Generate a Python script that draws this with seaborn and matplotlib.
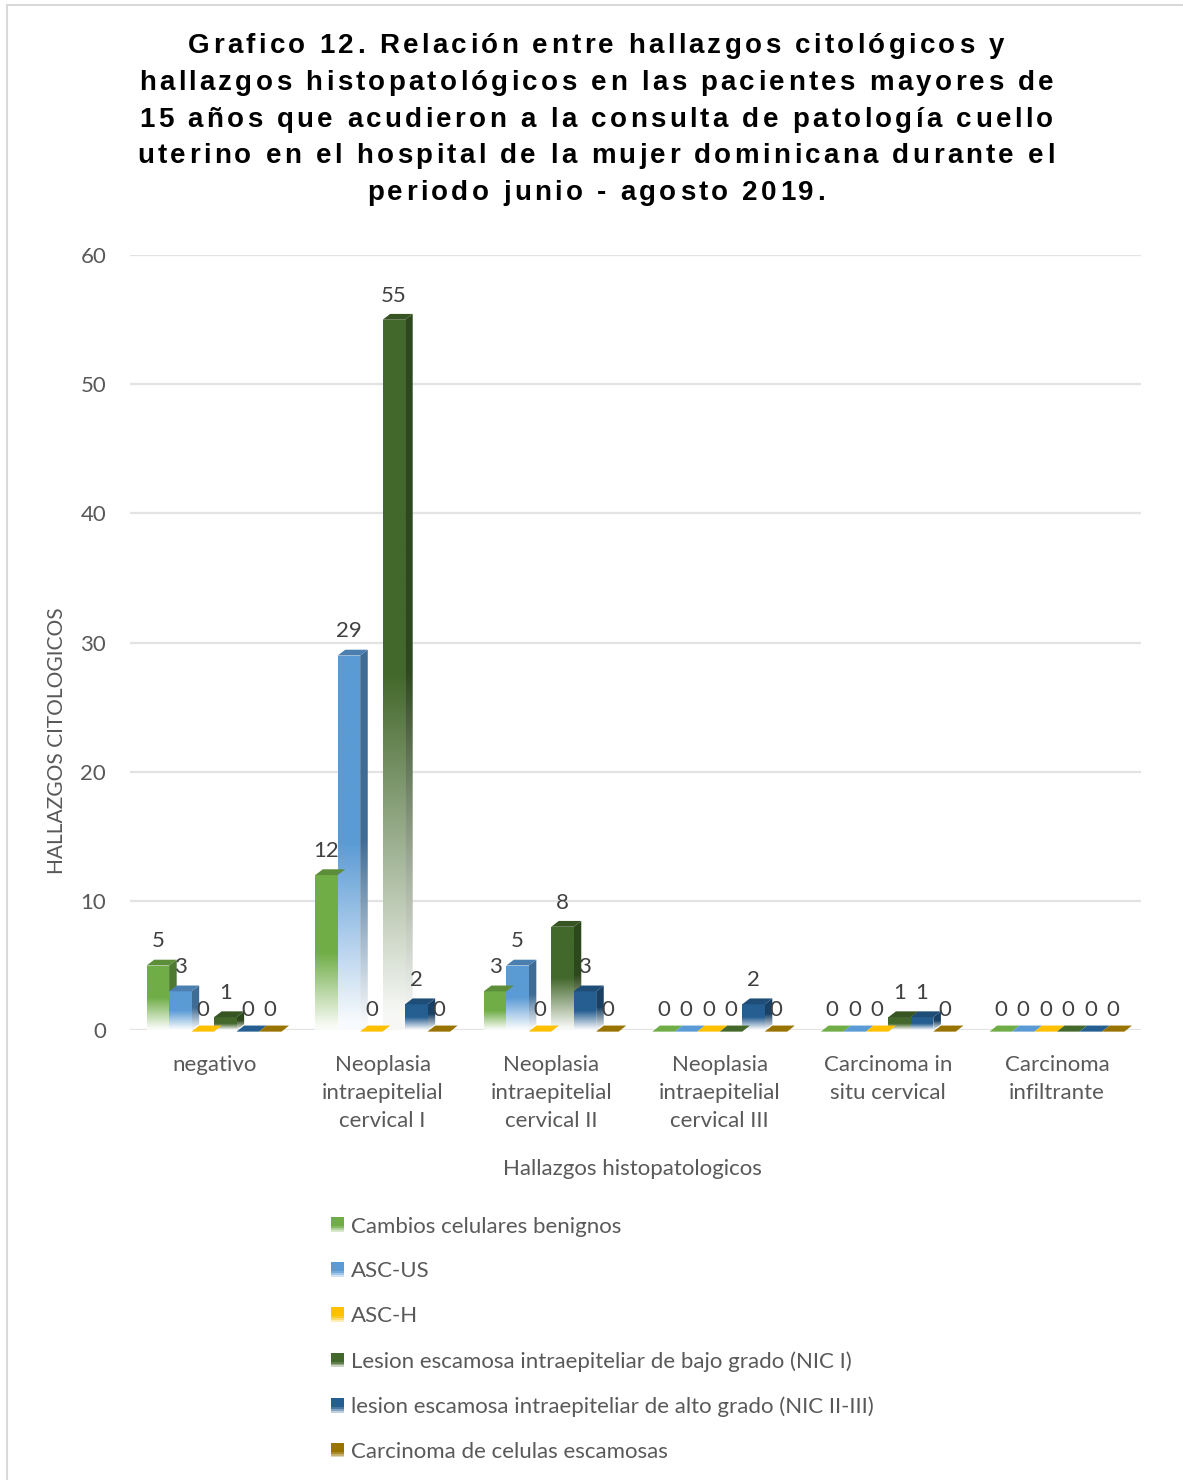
import numpy as np
import pandas as pd
import matplotlib
matplotlib.use("Agg")
import matplotlib.pyplot as plt
import seaborn as sns
from matplotlib.patches import Polygon, Rectangle
from matplotlib.lines import Line2D
from matplotlib.colors import to_rgb
from matplotlib.font_manager import FontProperties
from matplotlib.legend_handler import HandlerBase

# ---------------- data ----------------
categories = ["negativo",
              "Neoplasia\nintraepitelial\ncervical I",
              "Neoplasia\nintraepitelial\ncervical II",
              "Neoplasia\nintraepitelial\ncervical III",
              "Carcinoma in\nsitu cervical",
              "Carcinoma\ninfiltrante"]
series_names = ["Cambios celulares benignos",
                "ASC-US",
                "ASC-H",
                "Lesion escamosa intraepiteliar de bajo grado (NIC I)",
                "lesion escamosa intraepiteliar de alto grado (NIC II-III)",
                "Carcinoma de celulas escamosas"]
cambios_benignos = [5, 12, 3, 0, 0, 0]
asc_us = [3, 29, 5, 0, 0, 0]
asc_h = [0, 0, 0, 0, 0, 0]
nic_1 = [1, 55, 8, 0, 1, 0]
nic_2_3 = [0, 2, 3, 2, 1, 0]
carcinoma_esc = [0, 0, 0, 0, 0, 0]
series_colors = ["#70AD47", "#5B9BD5", "#FFC000", "#43682B", "#255E91", "#997300"]
y_ticks = [0, 10, 20, 30, 40, 50, 60]
title_lines = ["Grafico 12. Relación entre hallazgos citológicos y",
               "hallazgos histopatológicos en las pacientes mayores de",
               "15 años que acudieron a la consulta de patología cuello",
               "uterino en el hospital de la mujer dominicana durante el",
               "periodo junio - agosto 2019."]

values = [cambios_benignos, asc_us, asc_h, nic_1, nic_2_3, carcinoma_esc]
rows = []
for s, vals in zip(series_names, values):
    for c, v in zip(categories, vals):
        rows.append({"cat": c, "serie": s, "val": v})
df = pd.DataFrame(rows)

# ---------------- style ----------------
sns.set_theme(style="white")
BODY = ["Lato", "DejaVu Sans"]
plt.rcParams["font.family"] = BODY
TXT = "#595959"
FW, FH = 1183, 1480

fig = plt.figure(figsize=(FW / 100, FH / 100), dpi=100)
ax = fig.add_axes([0.1097, 0.304, 0.855, 0.5236])

sns.barplot(data=df, x="cat", y="val", hue="serie", order=categories,
            hue_order=series_names, palette=series_colors, width=0.8,
            ax=ax, legend=False, errorbar=None, saturation=1)

ax.set_ylim(0, 60)
ax.set_xlim(-0.5, len(categories) - 0.5)
ax.set_yticks(y_ticks)
ax.grid(axis="y", color="#E3E3E3", linewidth=1.6)
ax.set_axisbelow(True)
for sp in ax.spines.values():
    sp.set_visible(False)
ax.tick_params(axis="y", length=0, pad=17, labelsize=16, labelcolor=TXT)
ax.tick_params(axis="x", length=0, pad=18, labelsize=16, labelcolor=TXT)
for lab in ax.get_xticklabels():
    lab.set_linespacing(1.5)
    lab.set_verticalalignment("top")

ax.set_xlabel("Hallazgos histopatologicos", fontsize=16, color=TXT)
ax.xaxis.set_label_coords(0.497, -0.166)
ax.set_ylabel("HALLAZGOS CITOLOGICOS", fontsize=15, color=TXT)
ax.yaxis.set_label_coords(-0.062, 0.374)

# ---- 3D-like gradient rendering of seaborn's bars ----
dx = 0.045   # depth offset in x data units
dy = 0.45    # depth offset in y data units


def shade(col, f):
    r, g, b = to_rgb(col)
    return (r * f, g * f, b * f)


def blend(col, t):
    rgb = np.array(to_rgb(col))
    return tuple((1 - t) * np.ones(3) + t * rgb)


def gradient_fill(poly, col, y0, y1, x0, x1):
    n = 200
    frac = np.linspace(0, 1, n)[:, None]          # 0 bottom -> 1 top
    t = np.clip(frac / 0.5, 0.04, 1.0)
    rgb = np.array(to_rgb(col))
    img = (1 - t)[..., None] * np.ones(3) + t[..., None] * rgb
    img = np.repeat(img, 2, axis=1)
    im = ax.imshow(img, extent=[x0, x1, y0, y1], origin="lower",
                   aspect="auto", zorder=3, interpolation="bilinear")
    im.set_clip_path(poly)


for ci, cont in enumerate(ax.containers):
    col = series_colors[ci]
    for bar in cont:
        x0 = bar.get_x()
        w = bar.get_width()
        h = bar.get_height()
        x1 = x0 + w
        bar.set_facecolor("none")
        bar.set_edgecolor("none")
        if h <= 0:
            flat = Polygon([(x0, -0.12), (x1, -0.12), (x1 + dx, 0.35), (x0 + dx, 0.35)],
                           closed=True, facecolor=col, edgecolor="none", zorder=4,
                           clip_on=False)
            ax.add_patch(flat)
            ax.annotate("0", (x0 + w / 2, 0.35), xytext=(0, 4),
                        textcoords="offset points", ha="center", va="bottom",
                        fontsize=16, color="#404040", zorder=6)
            continue
        front = Polygon([(x0, 0), (x1, 0), (x1, h), (x0, h)], closed=True,
                        facecolor="none", edgecolor="none", zorder=3)
        ax.add_patch(front)
        gradient_fill(front, col, 0, h, x0, x1)
        side = Polygon([(x1, 0), (x1 + dx, dy), (x1 + dx, h + dy), (x1, h)],
                       closed=True, facecolor="none", edgecolor="none", zorder=3)
        ax.add_patch(side)
        gradient_fill(side, shade(col, 0.7), 0, h + dy, x1, x1 + dx)
        top = Polygon([(x0, h), (x1, h), (x1 + dx, h + dy), (x0 + dx, h + dy)],
                      closed=True, facecolor=shade(col, 0.82), edgecolor="none",
                      zorder=4)
        ax.add_patch(top)
        ax.annotate(f"{int(h)}", (x0 + w / 2, h + dy), xytext=(0, 6),
                    textcoords="offset points", ha="center", va="bottom",
                    fontsize=16, color="#404040", zorder=6)

# ---- title (letter-spaced, as in the original) ----
tprop = FontProperties(family=["Liberation Sans", "DejaVu Sans"], weight="bold", size=20)
renderer = fig.canvas.get_renderer()


def tw(s):
    w, _, _ = renderer.get_text_width_height_descent(s, tprop, ismath=False)
    return w


track = 3.3
cx = 596
base0 = 53
for li, line in enumerate(title_lines):
    widths = [tw("H" + ch + "H") - tw("HH") for ch in line]
    total = sum(widths) + track * (len(line) - 1)
    x = cx - total / 2
    yb = base0 + li * 36.8
    for ch, wch in zip(line, widths):
        if ch != " ":
            fig.text(x / FW, 1 - yb / FH, ch, fontproperties=tprop,
                     ha="left", va="baseline", color="black")
        x += wch + track


# ---- legend with gradient swatches ----
class GradientSwatch(HandlerBase):
    def create_artists(self, legend, orig_handle, xdescent, ydescent,
                       width, height, fontsize, trans):
        col = orig_handle.get_facecolor()
        n = 8
        arts = []
        for k in range(n):
            frac = (k + 0.5) / n
            t = min(1.0, 0.15 + frac / 0.45)
            r = Rectangle((-xdescent, -ydescent + height * k / n), width,
                          height / n + 0.3, facecolor=blend(col, t),
                          edgecolor="none", transform=trans)
            arts.append(r)
        return arts


handles = [Rectangle((0, 0), 1, 1, facecolor=c, edgecolor="none") for c in series_colors]
fig.legend(handles, series_names, loc="upper left",
           bbox_to_anchor=(0.272, 0.184), frameon=False, fontsize=16,
           labelcolor=TXT, handlelength=0.6, handleheight=0.6,
           handletextpad=0.3, labelspacing=1.12, borderaxespad=0,
           handler_map={Rectangle: GradientSwatch()})

# ---- outer frame ----
fig.add_artist(Line2D([0.006, 0.006], [0, 0.9965], color="#D9D9D9", lw=1.5,
                      transform=fig.transFigure))
fig.add_artist(Line2D([0.006, 1], [0.9965, 0.9965], color="#D9D9D9", lw=1.5,
                      transform=fig.transFigure))

fig.savefig("out.png", dpi=100, facecolor="white")
